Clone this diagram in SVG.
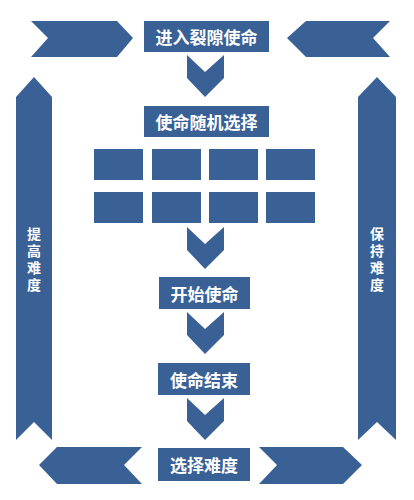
<svg xmlns="http://www.w3.org/2000/svg" width="414" height="500" viewBox="0 0 414 500">
<style>
.s{fill:#3a6195}
.b{fill:#3a6195}
.t{fill:#ffffff;font-family:"Noto Sans CJK SC",sans-serif;font-weight:bold;font-size:17px;text-anchor:middle;dominant-baseline:central}
.v{fill:#ffffff;font-family:"Noto Sans CJK SC",sans-serif;font-weight:bold;font-size:14px;text-anchor:middle;writing-mode:vertical-rl;letter-spacing:3px}
</style>
<defs>
<polygon id="dn" points="0,0 18,17 37,0 37,23 18,42 0,23"/>
</defs>
<rect width="414" height="500" fill="#ffffff"/>
<g id="connectors">
<polygon class="s" points="31,21 117,21 133,38 117,57 31,57 48,38"/>
<polygon class="s" points="390,21 306,21 287,38 306,57 390,57 373,38"/>
<polygon class="s" points="39,465 57,447 142,447 124,465 142,484 57,484"/>
<polygon class="s" points="259,447 343,447 362,465 343,484 259,484 277,465"/>
<use href="#dn" class="s" x="187" y="55"/>
<use href="#dn" class="s" x="187" y="227"/>
<use href="#dn" class="s" x="187" y="312"/>
<use href="#dn" class="s" x="187" y="398"/>
</g>
<g id="left-bar">
<polygon class="s" points="34,77 52,97 52,440 34,422 16,440 16,97"/>
<text class="v" x="34" y="261">提高难度</text>
</g>
<g id="right-bar">
<polygon class="s" points="377,77 396,97 396,440 377,422 358,440 358,97"/>
<text class="v" x="377" y="261">保持难度</text>
</g>
<g id="enter">
<rect class="b" x="144" y="21" width="125" height="31"/>
<text class="t" x="206.5" y="36.5">进入裂隙使命</text>
</g>
<g id="random">
<rect class="b" x="144" y="106" width="125" height="31"/>
<text class="t" x="206.5" y="121.5">使命随机选择</text>
</g>
<g id="grid">
<rect class="b" x="94" y="149" width="49" height="31"/>
<rect class="b" x="152" y="149" width="49" height="31"/>
<rect class="b" x="209" y="149" width="49" height="31"/>
<rect class="b" x="266" y="149" width="49" height="31"/>
<rect class="b" x="94" y="192" width="49" height="31"/>
<rect class="b" x="152" y="192" width="49" height="31"/>
<rect class="b" x="209" y="192" width="49" height="31"/>
<rect class="b" x="266" y="192" width="49" height="31"/>
</g>
<g id="start">
<rect class="b" x="159" y="277" width="91" height="32"/>
<text class="t" x="204.5" y="293">开始使命</text>
</g>
<g id="end">
<rect class="b" x="158" y="363" width="92" height="32"/>
<text class="t" x="204" y="379">使命结束</text>
</g>
<g id="difficulty">
<rect class="b" x="158" y="448" width="92" height="33"/>
<text class="t" x="204" y="464.5">选择难度</text>
</g>
</svg>
